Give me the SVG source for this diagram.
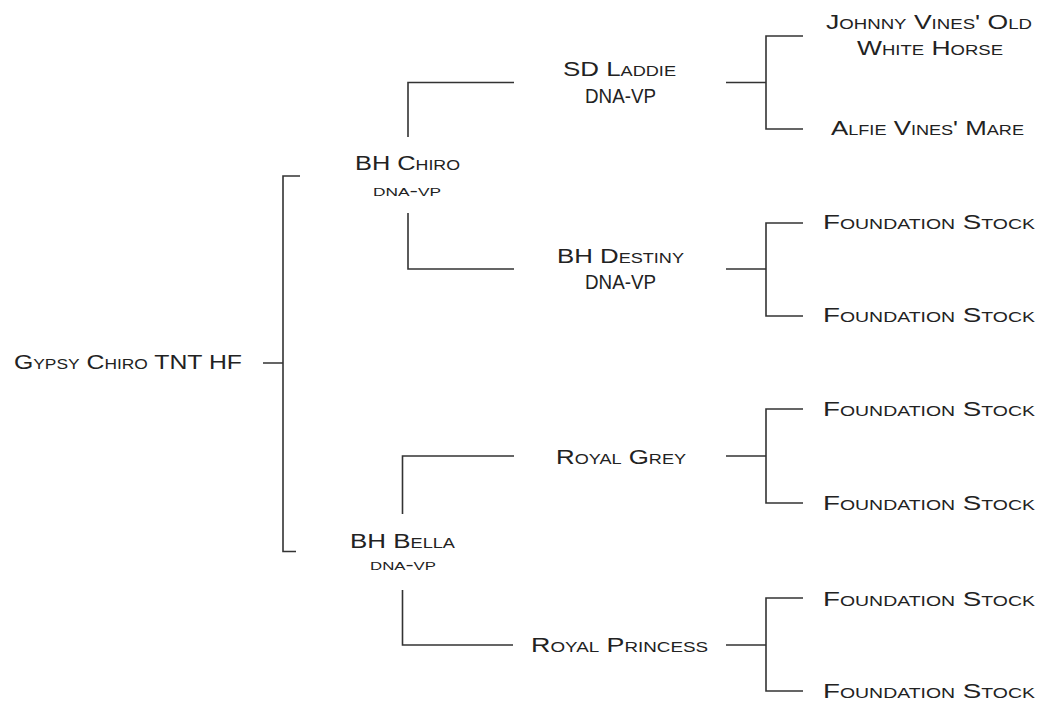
<svg xmlns="http://www.w3.org/2000/svg" width="1041" height="701" viewBox="0 0 1041 701">
<style>
.t{font-family:"Liberation Sans",Arial,sans-serif;font-variant:small-caps;font-size:20px;fill:#222;text-anchor:middle}
.s{font-family:"Liberation Sans",Arial,sans-serif;font-variant:small-caps;font-size:16px;fill:#222;text-anchor:middle}
.c{fill:none;stroke:#333;stroke-width:1.6}
</style>
<rect width="1041" height="701" fill="#fff"/>
<g id="connectors">
<path class="c" d="M263 363H283M300 176H283V551.5H296"/>
<path class="c" d="M408 137V82.5H514M408 213V269H514"/>
<path class="c" d="M402.5 514V456H514M402.5 590V645H513"/>
<path class="c" d="M726 82.5H766M803 36H766V129H803"/>
<path class="c" d="M726 269H766M803 223H766V316H803"/>
<path class="c" d="M726 456H766M803 409H766V503H803"/>
<path class="c" d="M726 645H766M803 598H766V691H803"/>
</g>
<g id="root"><text class="t" x="128" y="369" textLength="228" lengthAdjust="spacingAndGlyphs">Gypsy Chiro TNT HF</text></g>
<g id="bh-chiro"><text class="t" x="407.5" y="170" textLength="105" lengthAdjust="spacingAndGlyphs">BH Chiro</text><text class="s" x="407" y="196" textLength="68" lengthAdjust="spacingAndGlyphs">dna-vp</text></g>
<g id="sd-laddie"><text class="t" x="619.5" y="76" textLength="113" lengthAdjust="spacingAndGlyphs">SD Laddie</text><text class="t" x="620.5" y="103" textLength="71" lengthAdjust="spacingAndGlyphs">DNA-VP</text></g>
<g id="johnny"><text class="t" x="929" y="29" textLength="206" lengthAdjust="spacingAndGlyphs">Johnny Vines' Old</text><text class="t" x="930" y="55" textLength="146" lengthAdjust="spacingAndGlyphs">White Horse</text></g>
<g id="alfie"><text class="t" x="927.5" y="135" textLength="193" lengthAdjust="spacingAndGlyphs">Alfie Vines' Mare</text></g>
<g id="bh-destiny"><text class="t" x="620.5" y="263" textLength="127" lengthAdjust="spacingAndGlyphs">BH Destiny</text><text class="t" x="620.5" y="289" textLength="71" lengthAdjust="spacingAndGlyphs">DNA-VP</text></g>
<g id="fs1"><text class="t" x="929" y="229" textLength="212" lengthAdjust="spacingAndGlyphs">Foundation Stock</text></g>
<g id="fs2"><text class="t" x="929" y="322" textLength="212" lengthAdjust="spacingAndGlyphs">Foundation Stock</text></g>
<g id="bh-bella"><text class="t" x="402.5" y="548" textLength="105" lengthAdjust="spacingAndGlyphs">BH Bella</text><text class="s" x="403" y="570" textLength="66" lengthAdjust="spacingAndGlyphs">dna-vp</text></g>
<g id="royal-grey"><text class="t" x="621" y="464" textLength="130" lengthAdjust="spacingAndGlyphs">Royal Grey</text></g>
<g id="fs3"><text class="t" x="929" y="416" textLength="212" lengthAdjust="spacingAndGlyphs">Foundation Stock</text></g>
<g id="fs4"><text class="t" x="929" y="510" textLength="212" lengthAdjust="spacingAndGlyphs">Foundation Stock</text></g>
<g id="royal-princess"><text class="t" x="619.5" y="652" textLength="177" lengthAdjust="spacingAndGlyphs">Royal Princess</text></g>
<g id="fs5"><text class="t" x="929" y="606" textLength="212" lengthAdjust="spacingAndGlyphs">Foundation Stock</text></g>
<g id="fs6"><text class="t" x="929" y="698" textLength="212" lengthAdjust="spacingAndGlyphs">Foundation Stock</text></g>
</svg>
